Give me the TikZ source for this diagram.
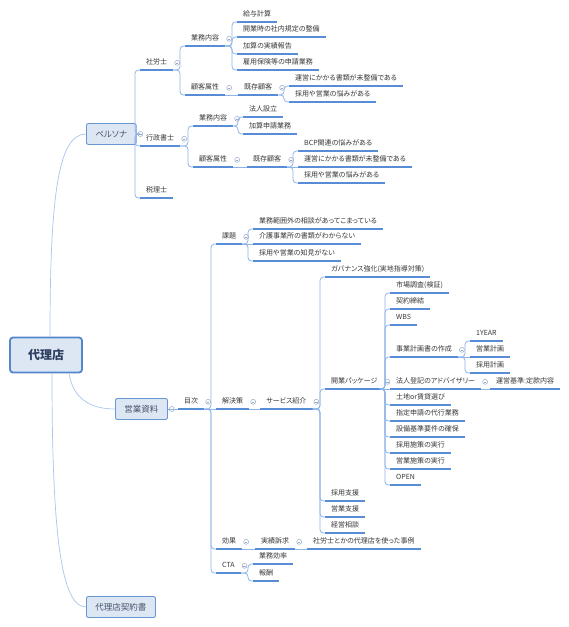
\documentclass[tikz,border=0pt]{standalone}
\usepackage{fontspec}
\setmainfont{Noto Sans CJK JP}[RawFeature=+palt]
\usetikzlibrary{calc}
\definecolor{ulblue}{RGB}{86,141,214}
\definecolor{brblue}{RGB}{142,181,232}
\definecolor{lnkblue}{RGB}{168,198,238}
\definecolor{boxline}{RGB}{102,150,214}
\definecolor{rootline}{RGB}{84,134,204}
\definecolor{boxfill}{RGB}{221,231,244}
\definecolor{txtgray}{RGB}{56,56,56}
\definecolor{boxtxt}{RGB}{72,82,104}
\definecolor{roottxt}{RGB}{44,62,96}
\definecolor{foldgray}{RGB}{150,170,200}

\begin{document}
\begin{tikzpicture}[x=1pt, y=-1pt,
    rootbox/.style={rectangle, draw=rootline, line width=1.8pt, fill=boxfill,
        rounded corners=3pt, minimum width=72pt, minimum height=35pt,
        font=\fontsize{12}{14}\selectfont\bfseries, text=roottxt},
    mainbox/.style={rectangle, draw=boxline, line width=0.9pt, fill=boxfill,
        rounded corners=2pt, minimum height=21pt, inner xsep=9pt, anchor=west,
        font=\fontsize{8.5}{10}\selectfont, text=boxtxt},
    uline/.style={draw=ulblue, line width=1.4pt},
    topic/.style={anchor=south west, font=\fontsize{7}{8}\selectfont, text=txtgray,
        inner xsep=6pt, inner ysep=3.5pt, text height=5.5pt, text depth=1.5pt,
        append after command={(\tikzlastnode.south west) edge[uline] (\tikzlastnode.south east)}},
    fold/.style={circle, draw=foldgray, fill=white, line width=0.5pt, inner sep=0pt,
        minimum size=5pt,
        path picture={\draw[foldgray, line width=0.5pt]
            ([xshift=1.2pt]path picture bounding box.west) -- ([xshift=-1.2pt]path picture bounding box.east);}},
    hub/.style={label={[fold, label distance=1pt]0:{}}},
    branch/.style={draw=brblue, line width=0.8pt, rounded corners=3.5pt},
    tree/.style={to path={-| ($(\tikztotarget)+(-5,0)$) -- (\tikztotarget)}},
    link/.style={draw=lnkblue, line width=0.7pt}
]
    \fill[white] (0,0) rectangle (569,627);
    \useasboundingbox (0,0) rectangle (569,627);

    \node[rootbox] (root) at (46,355) {代理店};
    \node[mainbox, hub] (persona) at (86,134) {ペルソナ};
    \node[mainbox, hub] (eigyo) at (115,409) {営業資料};
    \node[mainbox] (keiyaku) at (86,607) {代理店契約書};

    \draw[link] ([xshift=4pt]root.north) .. controls +(0,-140) and +(-28,0) .. (persona.west);
    \draw[link] ([xshift=23pt]root.south) .. controls +(4,25) and +(-25,0) .. (eigyo.west);
    \draw[link] ([xshift=6pt]root.south) .. controls +(0,160) and +(-25,0) .. (keiyaku.west);

    \node[topic, hub] (shr) at (140,70) {社労士};
    \node[topic, hub] (gyo1) at (185,46) {業務内容};
    \node[topic, hub] (kok1) at (185,95) {顧客属性};
    \node[topic] (k1a) at (237,22) {給与計算};
    \node[topic] (k1b) at (237,37) {開業時の社内規定の整備};
    \node[topic] (k1c) at (237,54) {加算の実績報告};
    \node[topic] (k1d) at (237,70) {雇用保険等の申請業務};
    \node[topic, hub] (kiz1) at (238,95) {既存顧客};
    \node[topic] (z1a) at (289,86) {運営にかかる書類が未整備である};
    \node[topic] (z1b) at (289,102) {採用や営業の悩みがある};

    \node[topic, hub] (gys) at (140,146) {行政書士};
    \node[topic, hub] (gyo2) at (193,126) {業務内容};
    \node[topic, hub] (kok2) at (193,167) {顧客属性};
    \node[topic] (g2a) at (243,117) {法人設立};
    \node[topic] (g2b) at (243,134) {加算申請業務};
    \node[topic, hub] (kiz2) at (247,167) {既存顧客};
    \node[topic] (z2a) at (298,151) {BCP関連の悩みがある};
    \node[topic] (z2b) at (298,167) {運営にかかる書類が未整備である};
    \node[topic] (z2c) at (298,183) {採用や営業の悩みがある};
    \node[topic] (zei) at (140,198) {税理士};

    \draw[branch] (persona.east) to[tree] (shr.south west);
    \draw[branch] (persona.east) to[tree] (gys.south west);
    \draw[branch] (persona.east) to[tree] (zei.south west);
    \draw[branch] (shr.south east) to[tree] (gyo1.south west);
    \draw[branch] (shr.south east) to[tree] (kok1.south west);
    \draw[branch] (gyo1.south east) to[tree] (k1a.south west);
    \draw[branch] (gyo1.south east) to[tree] (k1b.south west);
    \draw[branch] (gyo1.south east) to[tree] (k1c.south west);
    \draw[branch] (gyo1.south east) to[tree] (k1d.south west);
    \draw[branch] (kok1.south east) -- (kiz1.south west);
    \draw[branch] (kiz1.south east) to[tree] (z1a.south west);
    \draw[branch] (kiz1.south east) to[tree] (z1b.south west);
    \draw[branch] (gys.south east) to[tree] (gyo2.south west);
    \draw[branch] (gys.south east) to[tree] (kok2.south west);
    \draw[branch] (gyo2.south east) to[tree] (g2a.south west);
    \draw[branch] (gyo2.south east) to[tree] (g2b.south west);
    \draw[branch] (kok2.south east) -- (kiz2.south west);
    \draw[branch] (kiz2.south east) to[tree] (z2a.south west);
    \draw[branch] (kiz2.south east) -- (z2b.south west);
    \draw[branch] (kiz2.south east) to[tree] (z2c.south west);

    \node[topic, hub] (mok) at (178,409) {目次};
    \node[topic, hub] (kad) at (216,244) {課題};
    \node[topic, hub] (kai) at (216,409) {解決策};
    \node[topic, hub] (kou) at (216,549) {効果};
    \node[topic, hub] (cta) at (216,573) {CTA};
    \node[topic] (ka1) at (253,229) {業務範囲外の相談があってこまっている};
    \node[topic] (ka2) at (253,244) {介護事業所の書類がわからない};
    \node[topic] (ka3) at (253,261) {採用や営業の知見がない};
    \node[topic, hub] (svc) at (260,409) {サービス紹介};
    \node[topic] (gov) at (325,277) {ガバナンス強化(実地指導対策)};
    \node[topic, hub] (pkg) at (325,389) {開業パッケージ};
    \node[topic] (sai) at (325,501) {採用支援};
    \node[topic] (eis) at (325,517) {営業支援};
    \node[topic] (kei) at (325,533) {経営相談};
    \node[topic] (p1) at (390,293) {市場調査(検証)};
    \node[topic] (p2) at (390,309) {契約締結};
    \node[topic] (p3) at (390,325) {WBS};
    \node[topic, hub] (p4) at (390,357) {事業計画書の作成};
    \node[topic, hub] (p5) at (390,389) {法人登記のアドバイザリー};
    \node[topic] (p6) at (390,405) {土地or賃貸選び};
    \node[topic] (p7) at (390,421) {指定申請の代行業務};
    \node[topic] (p8) at (390,437) {設備基準要件の確保};
    \node[topic] (p9) at (390,453) {採用施策の実行};
    \node[topic] (p10) at (390,469) {営業施策の実行};
    \node[topic] (p11) at (390,485) {OPEN};
    \node[topic] (y1) at (470,341) {1YEAR};
    \node[topic] (y2) at (470,357) {営業計画};
    \node[topic] (y3) at (470,373) {採用計画};
    \node[topic] (tei) at (490,389) {運営基準:定款内容};
    \node[topic, hub] (jis) at (255,549) {実績訴求};
    \node[topic] (jir) at (307,549) {社労士とかの代理店を使った事例};
    \node[topic] (ct1) at (253,564) {業務効率};
    \node[topic] (ct2) at (253,581) {報酬};

    \draw[branch] (eigyo.east) -- (mok.south west);
    \draw[branch] (mok.south east) to[tree] (kad.south west);
    \draw[branch] (mok.south east) -- (kai.south west);
    \draw[branch] (mok.south east) to[tree] (kou.south west);
    \draw[branch] (mok.south east) to[tree] (cta.south west);
    \draw[branch] (kad.south east) to[tree] (ka1.south west);
    \draw[branch] (kad.south east) -- (ka2.south west);
    \draw[branch] (kad.south east) to[tree] (ka3.south west);
    \draw[branch] (kai.south east) -- (svc.south west);
    \draw[branch] (svc.south east) to[tree] (gov.south west);
    \draw[branch] (svc.south east) to[tree] (pkg.south west);
    \draw[branch] (svc.south east) to[tree] (sai.south west);
    \draw[branch] (svc.south east) to[tree] (eis.south west);
    \draw[branch] (svc.south east) to[tree] (kei.south west);
    \draw[branch] (pkg.south east) to[tree] (p1.south west);
    \draw[branch] (pkg.south east) to[tree] (p2.south west);
    \draw[branch] (pkg.south east) to[tree] (p3.south west);
    \draw[branch] (pkg.south east) to[tree] (p4.south west);
    \draw[branch] (pkg.south east) -- (p5.south west);
    \draw[branch] (pkg.south east) to[tree] (p6.south west);
    \draw[branch] (pkg.south east) to[tree] (p7.south west);
    \draw[branch] (pkg.south east) to[tree] (p8.south west);
    \draw[branch] (pkg.south east) to[tree] (p9.south west);
    \draw[branch] (pkg.south east) to[tree] (p10.south west);
    \draw[branch] (pkg.south east) to[tree] (p11.south west);
    \draw[branch] (p4.south east) to[tree] (y1.south west);
    \draw[branch] (p4.south east) -- (y2.south west);
    \draw[branch] (p4.south east) to[tree] (y3.south west);
    \draw[branch] (p5.south east) -- (tei.south west);
    \draw[branch] (kou.south east) -- (jis.south west);
    \draw[branch] (jis.south east) -- (jir.south west);
    \draw[branch] (cta.south east) to[tree] (ct1.south west);
    \draw[branch] (cta.south east) to[tree] (ct2.south west);
\end{tikzpicture}
\end{document}
